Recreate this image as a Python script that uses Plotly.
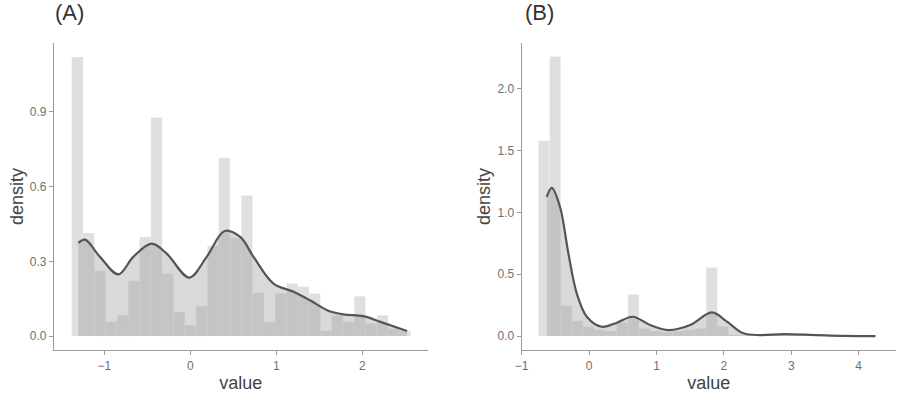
import plotly.graph_objects as go

# ---- Panel A data ----
a_bin_centers = [-1.313, -1.182, -1.050, -0.919, -0.787, -0.656, -0.525, -0.393, -0.262, -0.130,
                 0.001, 0.133, 0.264, 0.395, 0.527, 0.658, 0.790, 0.921, 1.052, 1.184,
                 1.315, 1.447, 1.578, 1.709, 1.841, 1.972, 2.104, 2.235, 2.366, 2.498]
a_bin_density = [1.121, 0.414, 0.262, 0.057, 0.084, 0.222, 0.398, 0.878, 0.251, 0.097,
                 0.044, 0.121, 0.362, 0.716, 0.395, 0.565, 0.174, 0.057, 0.171, 0.211,
                 0.198, 0.171, 0.021, 0.084, 0.057, 0.160, 0.051, 0.084, 0.030, 0.020]
a_bin_width = 0.1314
a_kde_x = [-1.302, -1.224, -1.05, -0.837, -0.663, -0.45, -0.275, -0.012, 0.19, 0.40,
           0.58, 0.735, 0.967, 1.2, 1.39, 1.59, 1.78, 2.01, 2.21, 2.52]
a_kde_y = [0.374, 0.387, 0.318, 0.248, 0.318, 0.371, 0.331, 0.235, 0.318, 0.422,
           0.398, 0.318, 0.211, 0.178, 0.144, 0.104, 0.087, 0.080, 0.057, 0.020]

# ---- Panel B data ----
b_bin_centers = [-0.670, -0.504, -0.338, -0.172, -0.006, 0.160, 0.326, 0.492, 0.658, 0.824,
                 0.990, 1.156, 1.322, 1.488, 1.654, 1.820, 1.986, 2.152, 2.318, 2.484,
                 2.650, 2.816, 2.982, 3.148, 3.314, 3.480, 3.646, 3.812, 3.978, 4.144]
b_bin_density = [1.58, 2.26, 0.245, 0.121, 0.075, 0.05, 0.04, 0.11, 0.336, 0.06,
                 0.04, 0.03, 0.04, 0.05, 0.06, 0.554, 0.08, 0.01, 0.005, 0.005,
                 0.01, 0.015, 0.01, 0.01, 0.005, 0.005, 0.005, 0.0, 0.0, 0.005]
b_bin_width = 0.166
b_kde_x = [-0.629, -0.554, -0.431, -0.307, -0.183, -0.034, 0.189, 0.412, 0.649, 0.906,
           1.178, 1.50, 1.823, 2.046, 2.29, 2.54, 2.887, 3.38, 3.78, 4.25]
b_kde_y = [1.125, 1.198, 1.044, 0.668, 0.345, 0.156, 0.075, 0.108, 0.156, 0.089,
           0.048, 0.089, 0.191, 0.116, 0.022, 0.008, 0.016, 0.008, 0.002, 0.0]

HIST_FILL = "rgba(150,150,150,0.30)"
KDE_FILL = "rgba(150,150,150,0.36)"
LINE_COL = "#555555"

fig = go.Figure()

def add_panel(centers, dens, width, kx, ky, xa, ya):
    fig.add_trace(go.Bar(x=centers, y=dens, width=width, marker_color=HIST_FILL,
                         marker_line=dict(color="rgba(255,255,255,0.35)", width=0.6),
                         xaxis=xa, yaxis=ya, showlegend=False, hoverinfo="skip"))
    fig.add_trace(go.Scatter(x=kx, y=ky, mode="lines",
                             line=dict(color=LINE_COL, width=2.2, shape="spline", smoothing=1.0),
                             fill="tozeroy", fillcolor=KDE_FILL,
                             xaxis=xa, yaxis=ya, showlegend=False, hoverinfo="skip"))

add_panel(a_bin_centers, a_bin_density, a_bin_width, a_kde_x, a_kde_y, "x", "y")
add_panel(b_bin_centers, b_bin_density, b_bin_width, b_kde_x, b_kde_y, "x2", "y2")

FONT = "Liberation Sans, Arial"
axis_common = dict(showgrid=False, zeroline=False, showline=True, linecolor="#9a9a9a", linewidth=1.3,
                   ticks="outside", ticklen=4, tickcolor="#9a9a9a", tickwidth=1, automargin=False,
                   tickfont=dict(family=FONT, size=12, color="#707070"),
                   title_font=dict(family=FONT, size=18, color="#444444"))

W = 896.0   # plot-area width
PH = 307.0  # plot-area height (y 43..350)
fig.update_layout(
    width=904, height=400, margin=dict(l=0, r=8, t=43, b=50, autoexpand=False),
    paper_bgcolor="white", plot_bgcolor="white", barmode="overlay",
    xaxis=dict(domain=[54/W, 427.7/W], range=[-1.585, 2.76], tickvals=[-1, 0, 1, 2],
               anchor="y", title=dict(text="value", standoff=4), **axis_common),
    yaxis=dict(domain=[0, 1], range=[-0.056, 1.177], tickvals=[0, 0.3, 0.6, 0.9],
               tickformat=".1f", anchor="x", title=dict(text="density", standoff=1), **axis_common),
    xaxis2=dict(domain=[521.7/W, 895.7/W], range=[-1.0, 4.55], tickvals=[-1, 0, 1, 2, 3, 4],
                anchor="y2", title=dict(text="value", standoff=4), **axis_common),
    yaxis2=dict(domain=[0, 1], range=[-0.113, 2.37], tickvals=[0, 0.5, 1.0, 1.5, 2.0],
                tickformat=".1f", anchor="x2", title=dict(text="density", standoff=2), **axis_common),
    annotations=[
        dict(text="(A)", x=53/W, y=(350-13)/PH, xref="paper", yref="paper", xanchor="left", yanchor="middle",
             showarrow=False, font=dict(family=FONT, size=22, color="#333333")),
        dict(text="(B)", x=522.5/W, y=(350-13)/PH, xref="paper", yref="paper", xanchor="left", yanchor="middle",
             showarrow=False, font=dict(family=FONT, size=22, color="#333333")),
    ],
)

fig.write_html("out.html", config={"displayModeBar": False},
               post_script="document.body.style.margin='0';")
